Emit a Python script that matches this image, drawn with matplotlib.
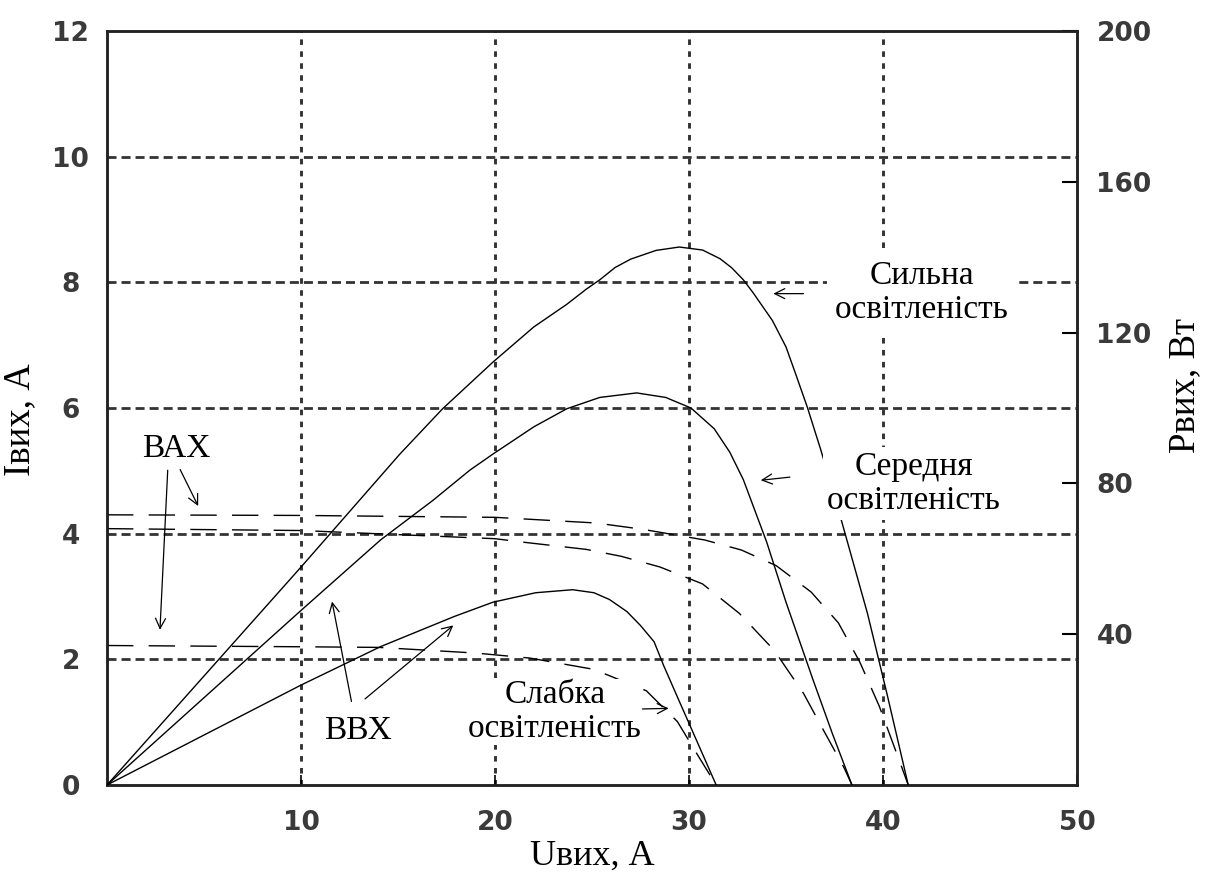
import matplotlib
matplotlib.use('Agg')
import matplotlib.pyplot as plt

plt.rcParams['lines.scale_dashes'] = False

# ---- Data: I-V curves (ВАХ), current in A ----
u_i_strong = [0, 10, 20, 25.2, 27.6, 30.8, 32.7, 34.5, 36.3, 37.7, 38.8, 39.8, 40.9, 41.3]
i_strong = [4.30, 4.29, 4.26, 4.17, 4.07, 3.90, 3.74, 3.49, 3.07, 2.58, 1.96, 1.26, 0.34, 0]
u_i_medium = [0, 10, 20, 21.3, 24.7, 26.5, 28.5, 30.7, 32.6, 34.4, 35.9, 36.9, 38.0, 38.4]
i_medium = [4.08, 4.05, 3.92, 3.87, 3.75, 3.64, 3.47, 3.20, 2.73, 2.14, 1.46, 0.89, 0.27, 0]
u_i_weak = [0, 10, 14, 19, 21.8, 25.1, 27.8, 29.4, 30.4, 31.4]
i_weak = [2.22, 2.20, 2.19, 2.10, 2.02, 1.84, 1.50, 1.01, 0.50, 0]

# ---- Data: P-V curves (ВВХ), power in W ----
u_p_strong = [0, 10, 15.1, 17.3, 19.9, 22.0, 23.7, 24.7, 25.4, 26.2, 27.0, 28.3, 29.5, 30.7, 31.6,
              32.2, 32.8, 33.3, 34.3, 35.0, 35.5, 36.1, 36.8, 37.8, 39.2, 40.2, 41.3]
p_strong = [0, 57.8, 87.8, 99.8, 112.2, 121.5, 127.5, 131.5, 134.0, 137.3, 139.5, 141.8, 142.7, 141.9, 139.6,
            137.2, 134.0, 130.6, 123.2, 116.2, 109, 100.2, 88.8, 71.2, 45.5, 24.3, 0]
u_p_medium = [0, 10, 14.1, 16.8, 18.7, 19.9, 22.0, 23.7, 25.4, 27.3, 28.8, 30.1, 31.3, 32.1,
              32.8, 34.0, 35.0, 36.4, 37.4, 38.4]
p_medium = [0, 46.3, 65, 75.5, 83.5, 87.8, 95, 99.8, 102.8, 104, 102.8, 100, 94.5, 88.3,
            81.0, 64.5, 48.5, 27.8, 13.5, 0]
u_p_weak = [0, 10, 14.1, 17.9, 19.9, 22.1, 24.0, 25.1, 25.9, 26.8, 27.5, 28.2, 28.7, 29.5, 30.4, 31.4]
p_weak = [0, 26.5, 36.7, 44.7, 48.5, 51.0, 51.8, 51.0, 49.2, 46.0, 42.3, 38.0, 31.6, 22.2, 11.7, 0]

x_ticks = [10, 20, 30, 40, 50]
y_ticks = [0, 2, 4, 6, 8, 10, 12]
p_ticks = [40, 80, 120, 160, 200]

serif = ['Liberation Serif', 'DejaVu Serif']
tick_family = 'DejaVu Sans'
tick_size = 19
tick_weight = 'bold'
tickcolor = '#3a3a3a'

fig = plt.figure(figsize=(12.09, 8.81), dpi=100)
W, H = 1209, 881
ax = fig.add_axes([107 / W, 1 - 785 / H, (1077 - 107) / W, (785 - 31) / H])
ax.set_xlim(0, 50)
ax.set_ylim(0, 12)

# grid
for y in [2, 4, 6, 8, 10]:
    ax.axhline(y, color='#333333', lw=2.0, dashes=(6.5, 3.6), zorder=1)
for x in [10, 20, 30, 40]:
    ax.axvline(x, color='#333333', lw=2.1, dashes=(4.0, 4.6), zorder=1)

for s in ax.spines.values():
    s.set_linewidth(1.8)
    s.set_color('#222222')

ax.set_xticks(x_ticks)
ax.set_yticks(y_ticks)
ax.tick_params(axis='x', direction='in', length=7, width=1.2, pad=18, labelcolor=tickcolor)
ax.tick_params(axis='y', direction='in', length=0, pad=26, labelcolor=tickcolor)
for lab in ax.get_xticklabels() + ax.get_yticklabels():
    lab.set_fontfamily(tick_family)
    lab.set_fontsize(tick_size)
    lab.set_fontweight(tick_weight)
for lab in ax.get_yticklabels():
    lab.set_horizontalalignment('center')

# I-V dashed curves
for u, i in [(u_i_strong, i_strong), (u_i_medium, i_medium), (u_i_weak, i_weak)]:
    ax.plot(u, i, color='black', lw=1.0, dashes=(19, 11), zorder=3)

ax.set_xlabel('Uвих, А', family=serif, fontsize=26)
ax.xaxis.set_label_coords(0.5, -0.072)
ax.set_ylabel('Iвих, А', family=serif, fontsize=26.5)
ax.yaxis.set_label_coords(-0.072, 0.485)

ax2 = ax.twinx()
ax2.set_ylim(0, 200)
ax2.set_yticks(p_ticks)
ax2.tick_params(axis='y', direction='in', length=11, width=1.5, pad=14, labelcolor=tickcolor)
for lab in ax2.get_yticklabels():
    lab.set_fontfamily(tick_family)
    lab.set_fontsize(tick_size)
    lab.set_fontweight(tick_weight)
for s in ax2.spines.values():
    s.set_linewidth(1.8)
    s.set_color('#222222')
ax2.set_ylabel('Pвих, Вт', family=serif, fontsize=26.5)
ax2.yaxis.set_label_coords(1.094, 0.53)

# P-V solid curves
for u, p in [(u_p_strong, p_strong), (u_p_medium, p_medium), (u_p_weak, p_weak)]:
    ax2.plot(u, p, color='black', lw=1.0, zorder=3)

T = ax.transData
ax2.text(42.0, 7.84, 'Сильна\nосвітленість', transform=T, family=serif, fontsize=24,
         ha='center', va='center', linespacing=1.15,
         bbox=dict(facecolor='white', edgecolor='none', pad=6), zorder=5)
ax2.text(41.6, 4.80, 'Середня\nосвітленість', transform=T, family=serif, fontsize=24,
         ha='center', va='center', linespacing=1.15,
         bbox=dict(facecolor='white', edgecolor='none', pad=3), zorder=5)
ax2.text(23.1, 1.16, 'Слабка\nосвітленість', transform=T, family=serif, fontsize=24,
         ha='center', va='center', linespacing=1.15,
         bbox=dict(facecolor='white', edgecolor='none', pad=0.5), zorder=2)
ax2.text(3.56, 5.35, 'ВАХ', transform=T, family=serif, fontsize=24,
         ha='center', va='center', zorder=5)
ax2.text(12.94, 0.87, 'ВВХ', transform=T, family=serif, fontsize=24,
         ha='center', va='center', zorder=5)

arrow = dict(arrowstyle='->', color='black', lw=0.9, shrinkA=0, shrinkB=0, mutation_scale=18)
def arr(x0, y0, x1, y1):
    ax2.annotate('', xy=(x1, y1), xytext=(x0, y0), xycoords=T, textcoords=T,
                 arrowprops=arrow, zorder=6)

arr(35.9, 7.82, 34.35, 7.82)   # Сильна
arr(35.2, 4.90, 33.7, 4.85)    # Середня
arr(27.6, 1.21, 28.95, 1.22)   # Слабка
arr(3.13, 5.01, 2.73, 2.47)    # ВАХ -> weak
arr(3.77, 5.02, 4.70, 4.44)    # ВАХ -> strong
arr(12.6, 1.33, 11.6, 2.92)    # ВВХ -> medium
arr(13.3, 1.37, 17.85, 2.54)   # ВВХ -> weak

fig.savefig('out.png', dpi=100)
